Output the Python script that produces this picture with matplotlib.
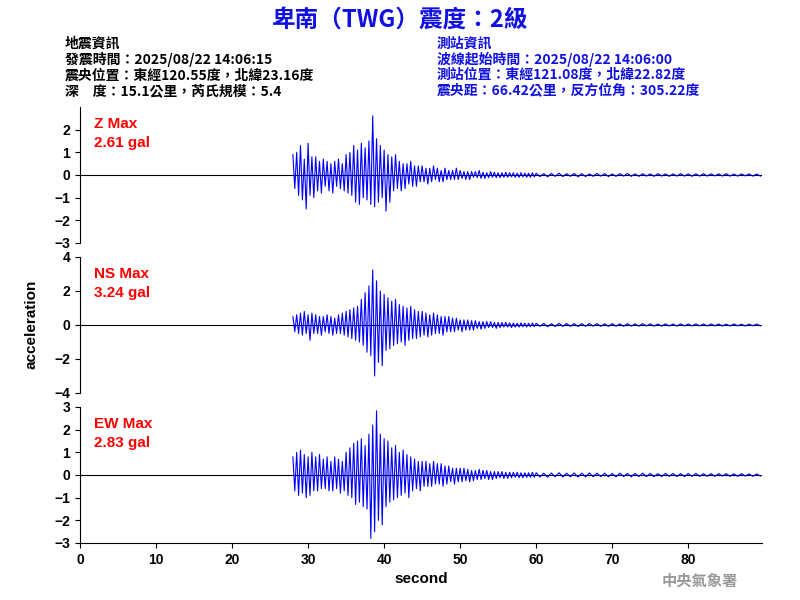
import numpy as np
import matplotlib
matplotlib.use("Agg")
import matplotlib.pyplot as plt

plt.rcParams['font.family'] = ['Noto Sans CJK TC', 'DejaVu Sans']

title = "卑南（TWG）震度：2級"
left_info = ["地震資訊", "發震時間：2025/08/22 14:06:15",
             "震央位置：東經120.55度，北緯23.16度", "深　度：15.1公里，芮氏規模：5.4"]
right_info = ["測站資訊", "波線起始時間：2025/08/22 14:06:00",
              "測站位置：東經121.08度，北緯22.82度", "震央距：66.42公里，反方位角：305.22度"]
labels = ["Z Max\n2.61 gal", "NS Max\n3.24 gal", "EW Max\n2.83 gal"]
ylims = [(-3, 3), (-4, 4), (-3, 3)]
yticks = [[-3, -2, -1, 0, 1, 2], [-4, -2, 0, 2, 4], [-3, -2, -1, 0, 1, 2, 3]]
xticks = [0, 10, 20, 30, 40, 50, 60, 70, 80]

# strong part 28-60 s (0.25 s samples), tail 60-90 s (0.5 s samples)
z_main = [0.9,-0.6,1.0,-0.9, 1.3,-1.1,0.7,-1.5, 1.4,-0.9,0.8,-1.0, 0.8,-0.7,0.6,-0.8,
          0.7,-0.5,0.6,-0.7, 0.5,-0.8,0.6,-0.5, 0.7,-0.6,0.5,-0.7, 0.9,-0.8,1.0,-0.9,
          1.3,-1.2,1.1,-1.3, 1.4,-1.0,1.2,-1.1, 1.5,-1.3,2.61,-1.4, 1.6,-1.2,1.3,-1.0,
          1.1,-1.6,0.9,-1.2, 0.8,-0.7,0.9,-0.6, 0.6,-0.7,0.5,-0.6, 0.5,-0.4,0.6,-0.5,
          0.4,-0.5,0.4,-0.3, 0.4,-0.3,0.3,-0.4, 0.3,-0.3,0.4,-0.2, 0.3,-0.3,0.2,-0.3,
          0.3,-0.2,0.2,-0.2, 0.2,-0.2,0.3,-0.2, 0.2,-0.15,0.15,-0.2, 0.15,-0.2,0.15,-0.1,
          0.15,-0.12,0.2,-0.15, 0.12,-0.15,0.1,-0.12, 0.15,-0.1,0.12,-0.12, 0.1,-0.12,0.1,-0.1,
          0.12,-0.1,0.1,-0.08, 0.1,-0.1,0.08,-0.1, 0.1,-0.08,0.08,-0.1, 0.08,-0.1,0.1,-0.08]
z_tail = [0.08,-0.07,0.06,-0.08,0.07,-0.06,0.08,-0.07,0.06,-0.06,0.07,-0.08,0.06,-0.07,0.05,
          -0.06,0.07,-0.05,0.06,-0.07,0.05,-0.06,0.06,-0.05,0.07,-0.06,0.05,-0.06,0.06,-0.05,
          0.05,-0.06,0.06,-0.05,0.05,-0.06,0.05,-0.05,0.06,-0.05,0.05,-0.06,0.05,-0.05,0.06,
          -0.05,0.05,-0.04,0.05,-0.05,0.06,-0.05,0.04,-0.05,0.05,-0.04,0.05,-0.05,0.04,-0.05]
ns_main = [0.5,-0.4,0.6,-0.5, 0.7,-0.6,0.8,-0.5, 0.6,-0.9,0.7,-0.5, 0.6,-0.5,0.5,-0.6,
           0.5,-0.4,0.6,-0.5, 0.5,-0.6,0.4,-0.5, 0.6,-0.5,0.7,-0.6, 0.8,-0.7,0.9,-0.8,
           1.0,-0.9,1.1,-1.0, 1.5,-1.2,1.9,-1.6, 2.3,-1.8,3.24,-3.0, 2.6,-2.2,2.0,-2.4,
           1.8,-1.5,1.6,-1.4, 1.4,-1.2,1.5,-1.1, 1.2,-1.0,1.1,-1.2, 1.0,-0.9,1.1,-0.8,
           0.9,-0.8,0.8,-0.7, 0.8,-0.6,0.7,-0.7, 0.6,-0.6,0.7,-0.5, 0.6,-0.5,0.5,-0.6,
           0.5,-0.4,0.5,-0.4, 0.4,-0.4,0.4,-0.3, 0.3,-0.4,0.3,-0.3, 0.3,-0.3,0.25,-0.3,
           0.25,-0.2,0.2,-0.25, 0.2,-0.2,0.2,-0.15, 0.2,-0.15,0.15,-0.2, 0.15,-0.15,0.15,-0.12,
           0.15,-0.12,0.12,-0.15, 0.12,-0.12,0.1,-0.12, 0.12,-0.1,0.1,-0.12, 0.1,-0.1,0.12,-0.1]
ns_tail = [0.1,-0.08,0.09,-0.1,0.08,-0.09,0.1,-0.08,0.09,-0.08,0.08,-0.09,0.08,-0.08,0.09,
           -0.07,0.08,-0.08,0.07,-0.08,0.08,-0.07,0.07,-0.08,0.08,-0.07,0.07,-0.07,0.08,-0.06,
           0.07,-0.07,0.06,-0.07,0.07,-0.06,0.06,-0.07,0.07,-0.06,0.06,-0.06,0.07,-0.06,0.06,
           -0.06,0.06,-0.05,0.06,-0.06,0.05,-0.06,0.06,-0.05,0.05,-0.06,0.05,-0.05,0.06,-0.05]
ew_main = [0.8,-0.7,1.0,-0.9, 1.1,-0.8,0.9,-1.0, 0.8,-0.9,1.0,-0.7, 0.8,-0.7,0.9,-0.6,
           0.7,-0.6,0.8,-0.7, 0.6,-0.7,0.8,-0.6, 0.7,-0.8,0.6,-0.7, 1.0,-0.9,1.2,-1.0,
           1.4,-1.3,1.5,-1.2, 1.6,-1.4,1.3,-1.5, 1.8,-2.8,2.2,-2.5, 2.83,-2.0,1.8,-2.2,
           1.6,-1.4,1.5,-1.2, 1.2,-1.1,1.3,-1.0, 1.0,-0.9,1.1,-0.8, 0.9,-1.0,0.8,-0.7,
           0.7,-0.6,0.6,-0.7, 0.6,-0.5,0.6,-0.5, 0.5,-0.5,0.6,-0.4, 0.5,-0.4,0.5,-0.5,
           0.4,-0.4,0.4,-0.3, 0.3,-0.4,0.3,-0.3, 0.3,-0.3,0.3,-0.25, 0.25,-0.3,0.2,-0.25,
           0.2,-0.2,0.25,-0.2, 0.2,-0.15,0.2,-0.2, 0.15,-0.2,0.15,-0.15, 0.15,-0.12,0.15,-0.15,
           0.12,-0.15,0.12,-0.12, 0.12,-0.1,0.12,-0.12, 0.1,-0.12,0.1,-0.1, 0.1,-0.1,0.12,-0.1]
ew_tail = [0.1,-0.09,0.08,-0.1,0.09,-0.08,0.1,-0.09,0.08,-0.08,0.09,-0.09,0.08,-0.08,0.09,
           -0.08,0.08,-0.07,0.08,-0.08,0.07,-0.08,0.08,-0.07,0.07,-0.08,0.07,-0.07,0.08,-0.07,
           0.07,-0.07,0.06,-0.07,0.07,-0.06,0.07,-0.07,0.06,-0.07,0.06,-0.06,0.07,-0.06,0.06,
           -0.06,0.06,-0.06,0.06,-0.05,0.06,-0.06,0.05,-0.06,0.06,-0.05,0.05,-0.06,0.05,-0.05]

t_main = 28 + 0.25 * np.arange(len(z_main))
t_tail = 60 + 0.5 * np.arange(len(z_tail))
traces = [z_main + z_tail, ns_main + ns_tail, ew_main + ew_tail]
t = np.concatenate([t_main, t_tail])

fig = plt.figure(figsize=(8, 6), dpi=100)
boxes = [(0.595, 0.8217), (0.345, 0.5717), (0.095, 0.3217)]
for i, (b, tp) in enumerate(boxes):
    ax = fig.add_axes([0.1, b, 0.8525, tp - b])
    ax.axhline(0, color='black', lw=0.8)
    ax.plot(t, traces[i], color='blue', lw=0.8)
    ax.set_xlim(0, 89.7)
    ax.set_ylim(*ylims[i])
    ax.set_yticks(yticks[i])
    ax.tick_params(labelsize=10)
    for lab in ax.get_yticklabels() + ax.get_xticklabels():
        lab.set_fontfamily('Liberation Sans')
        lab.set_fontweight('bold')
    for s in ['top', 'right']:
        ax.spines[s].set_visible(False)
    ax.text(0.02, 0.93, labels[i], transform=ax.transAxes, color='red',
            fontsize=11, va='top', fontfamily='Liberation Sans', fontweight='bold',
            linespacing=1.5)
    if i < 2:
        ax.spines['bottom'].set_visible(False)
        ax.set_xticks([])
    else:
        ax.set_xticks(xticks)
        for lab in ax.get_xticklabels():
            lab.set_fontfamily('Liberation Sans')
            lab.set_fontweight('bold')
        ax.set_xlabel("second", fontsize=11, fontfamily='Liberation Sans', fontweight='bold')

fig.text(0.5, 0.968, title, color='#1010e0', fontsize=17, fontweight='bold',
         ha='center', va='center')
for k, s in enumerate(left_info):
    fig.text(0.081, 0.928 - k * 0.0267, s, fontsize=10, va='center', color='black',
             fontweight='bold')
for k, s in enumerate(right_info):
    fig.text(0.546, 0.928 - k * 0.0267, s, fontsize=10, va='center', color='#1010e0',
             fontweight='bold')
fig.text(0.04, 0.46, "acceleration", rotation=90, fontsize=11, ha='center', va='center',
         fontfamily='Liberation Sans', fontweight='bold')
fig.text(0.875, 0.032, "中央氣象署", fontsize=11, color='#999999', ha='center', va='center',
         fontweight='bold')
fig.savefig("out.png", dpi=100)
